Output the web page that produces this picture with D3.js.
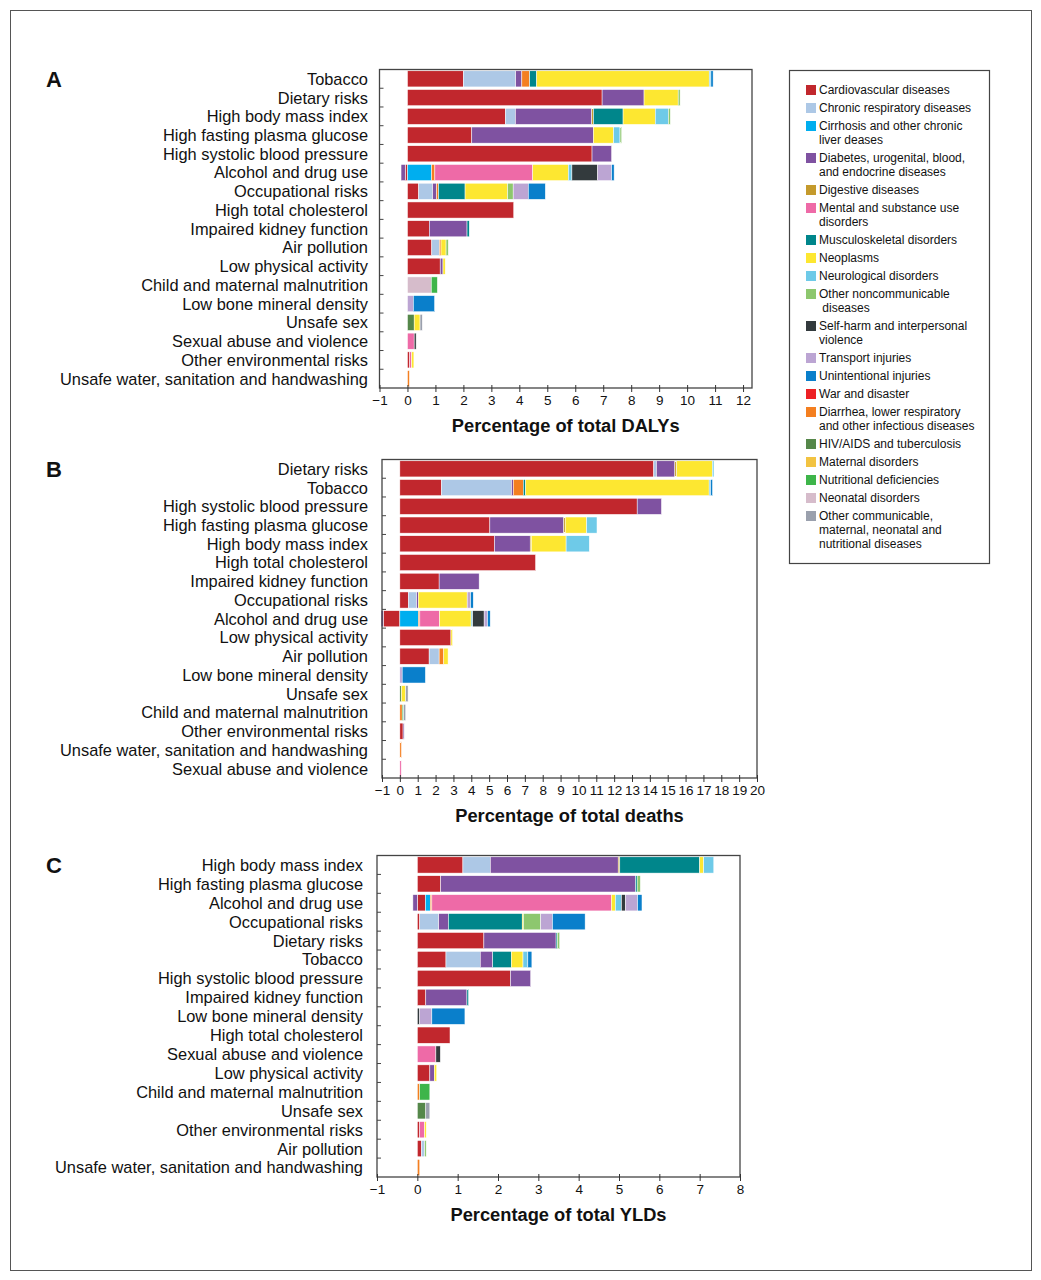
<!DOCTYPE html>
<html>
<head>
<meta charset="utf-8">
<style>
  body { margin: 0; background: #fff; }
  svg text { font-family: "Liberation Sans", Arial, Helvetica, sans-serif; fill: #111; }
  .axis line { stroke: #333; }
  .axis text { font-size: 13.5px; }
</style>
</head>
<body>
<div id="chart"></div>
<script src="https://d3js.org/d3.v7.min.js"></script>
<script>
// cause groups, in legend order
const causeKeys = ['cvd', 'crd', 'cirr', 'diab', 'dig', 'ment', 'msk', 'neo', 'neuro', 'oncd',
  'self', 'trans', 'unint', 'war', 'diar', 'hiv', 'mat', 'nutr', 'neon', 'ocd'];
const causeNames = [
  ['Cardiovascular diseases'],
  ['Chronic respiratory diseases'],
  ['Cirrhosis and other chronic', 'liver deases'],
  ['Diabetes, urogenital, blood,', 'and endocrine diseases'],
  ['Digestive diseases'],
  ['Mental and substance use', 'disorders'],
  ['Musculoskeletal disorders'],
  ['Neoplasms'],
  ['Neurological disorders'],
  ['Other noncommunicable', ' diseases'],
  ['Self-harm and interpersonal', 'violence'],
  ['Transport injuries'],
  ['Unintentional injuries'],
  ['War and disaster'],
  ['Diarrhea, lower respiratory', 'and other infectious diseases'],
  ['HIV/AIDS and tuberculosis'],
  ['Maternal disorders'],
  ['Nutritional deficiencies'],
  ['Neonatal disorders'],
  ['Other communicable,', 'maternal, neonatal and', 'nutritional diseases']
];
const causeColors = ['#c1272d', '#adc8e6', '#00aeef', '#7f52a1', '#c49a2c', '#ee6aa7', '#00868b',
  '#fde731', '#6ecae8', '#8dc76e', '#333a3d', '#bca5d3', '#0a7fcb', '#ed2024', '#f47f20',
  '#55874a', '#f2c341', '#3eb54a', '#d6bccb', '#9aa0ad'];
// order segments are stacked in the bars
const stackOrder = ['cvd', 'crd', 'cirr', 'diab', 'dig', 'diar', 'hiv', 'neon', 'ment', 'msk', 'neo',
  'neuro', 'oncd', 'self', 'trans', 'unint', 'war', 'mat', 'nutr', 'ocd'];

// A: DALYs
const dalyRisks = ['Tobacco', 'Dietary risks', 'High body mass index', 'High fasting plasma glucose',
  'High systolic blood pressure', 'Alcohol and drug use', 'Occupational risks', 'High total cholesterol',
  'Impaired kidney function', 'Air pollution', 'Low physical activity', 'Child and maternal malnutrition',
  'Low bone mineral density', 'Unsafe sex', 'Sexual abuse and violence', 'Other environmental risks',
  'Unsafe water, sanitation and handwashing'];
const dalyValues = [
  { cvd: 2.0, crd: 1.87, diab: 0.22, diar: 0.28, msk: 0.25, neo: 6.17, neuro: 0.06, unint: 0.08 },
  { cvd: 6.96, diab: 1.5, neo: 1.22, oncd: 0.07 },
  { cvd: 3.5, crd: 0.36, diab: 2.73, dig: 0.06, msk: 1.06, neo: 1.15, neuro: 0.47, oncd: 0.07 },
  { cvd: 2.3, diab: 4.35, neo: 0.72, neuro: 0.23, oncd: 0.06 },
  { cvd: 6.6, diab: 0.7 },
  { cvd: -0.08, diab: -0.15, cirr: 0.86, diar: 0.12, ment: 3.5, neo: 1.27, neuro: 0.13, self: 0.92, trans: 0.5, unint: 0.09 },
  { cvd: 0.4, crd: 0.5, diab: 0.14, diar: 0.07, msk: 0.95, neo: 1.52, oncd: 0.2, trans: 0.54, unint: 0.61 },
  { cvd: 3.8 },
  { cvd: 0.78, diab: 1.35, msk: 0.08 },
  { cvd: 0.87, crd: 0.27, diar: 0.06, neo: 0.18, oncd: 0.08 },
  { cvd: 1.17, diab: 0.1, neo: 0.08 },
  { neon: 0.85, nutr: 0.22 },
  { trans: 0.21, unint: 0.76 },
  { hiv: 0.24, neo: 0.21, ocd: 0.08 },
  { ment: 0.24, self: 0.07 },
  { cvd: 0.08, ment: 0.07, neo: 0.08 },
  { diar: 0.07 }
];
const dalyTicks = [-1, 0, 1, 2, 3, 4, 5, 6, 7, 8, 9, 10, 11, 12];

// B: deaths
const deathRisks = ['Dietary risks', 'Tobacco', 'High systolic blood pressure', 'High fasting plasma glucose',
  'High body mass index', 'High total cholesterol', 'Impaired kidney function', 'Occupational risks',
  'Alcohol and drug use', 'Low physical activity', 'Air pollution', 'Low bone mineral density', 'Unsafe sex',
  'Child and maternal malnutrition', 'Other environmental risks', 'Unsafe water, sanitation and handwashing',
  'Sexual abuse and violence'];
const deathValues = [
  { cvd: 14.22, crd: 0.15, diab: 1.03, dig: 0.1, neo: 2.0, neuro: 0.09 },
  { cvd: 2.33, crd: 3.92, diab: 0.1, diar: 0.56, msk: 0.13, neo: 10.28, neuro: 0.08, unint: 0.11 },
  { cvd: 13.29, diab: 1.36 },
  { cvd: 5.04, diab: 4.14, dig: 0.08, neo: 1.2, neuro: 0.58 },
  { cvd: 5.3, diab: 2.0, dig: 0.06, neo: 1.95, neuro: 1.3 },
  { cvd: 7.6 },
  { cvd: 2.2, diab: 2.24 },
  { cvd: 0.47, crd: 0.47, diab: 0.09, neo: 2.74, trans: 0.19, unint: 0.15 },
  { cvd: -0.93, diab: -0.12, cirr: 1.03, diar: 0.09, ment: 1.1, neo: 1.77, neuro: 0.09, self: 0.64, trans: 0.19, unint: 0.15 },
  { cvd: 2.86, neo: 0.09 },
  { cvd: 1.64, crd: 0.56, diar: 0.26, neo: 0.24 },
  { trans: 0.13, unint: 1.3 },
  { hiv: 0.09, neo: 0.24, ocd: 0.13 },
  { diar: 0.13, nutr: 0.08, ocd: 0.12 },
  { cvd: 0.18, diab: 0.06 },
  { diar: 0.09 },
  { ment: 0.08 }
];
const deathTicks = d3.range(-1, 21);

// C: YLDs
const yldRisks = ['High body mass index', 'High fasting plasma glucose', 'Alcohol and drug use',
  'Occupational risks', 'Dietary risks', 'Tobacco', 'High systolic blood pressure', 'Impaired kidney function',
  'Low bone mineral density', 'High total cholesterol', 'Sexual abuse and violence', 'Low physical activity',
  'Child and maternal malnutrition', 'Unsafe sex', 'Other environmental risks', 'Air pollution',
  'Unsafe water, sanitation and handwashing'];
const yldValues = [
  { cvd: 1.13, crd: 0.68, diab: 3.17, dig: 0.04, msk: 1.98, neo: 0.1, neuro: 0.25 },
  { cvd: 0.58, diab: 4.83, msk: 0.04, oncd: 0.08 },
  { diab: -0.11, cvd: 0.2, cirr: 0.12, diar: 0.04, ment: 4.45, neo: 0.1, neuro: 0.15, self: 0.1, trans: 0.3, unint: 0.11 },
  { cvd: 0.06, crd: 0.47, diab: 0.24, msk: 1.83, neo: 0.03, oncd: 0.43, trans: 0.29, unint: 0.81 },
  { cvd: 1.65, diab: 1.79, msk: 0.03, oncd: 0.06 },
  { cvd: 0.71, crd: 0.85, diab: 0.31, msk: 0.46, neo: 0.29, neuro: 0.12, unint: 0.1 },
  { cvd: 2.31, diab: 0.5 },
  { cvd: 0.21, diab: 1.02, msk: 0.04 },
  { self: 0.06, trans: 0.3, unint: 0.82 },
  { cvd: 0.81 },
  { ment: 0.46, self: 0.11 },
  { cvd: 0.31, diab: 0.11, neo: 0.06 },
  { diar: 0.06, nutr: 0.25 },
  { hiv: 0.21, ocd: 0.1 },
  { cvd: 0.06, ment: 0.12, neo: 0.04 },
  { cvd: 0.1, crd: 0.08, oncd: 0.04 },
  { diar: 0.06 }
];
const yldTicks = [-1, 0, 1, 2, 3, 4, 5, 6, 7, 8];

const color = d3.scaleOrdinal().domain(causeKeys).range(causeColors);

const svg = d3.select('#chart').append('svg')
  .attr('width', 1041).attr('height', 1280);

// outer border
svg.append('rect')
  .attr('x', 10.5).attr('y', 10.5).attr('width', 1021).attr('height', 1260)
  .attr('fill', 'none').attr('stroke', '#555').attr('stroke-width', 1);

const panels = [
  { letter: 'A', risks: dalyRisks, values: dalyValues, ticks: dalyTicks, domain: [-1, 12.32],
    x0: 379.5, x1: 752, top: 69.5, bottom: 388, labelX: 368, title: 'Percentage of total DALYs' },
  { letter: 'B', risks: deathRisks, values: deathValues, ticks: deathTicks, domain: [-1, 20],
    x0: 382, x1: 757, top: 459.5, bottom: 778, labelX: 368, title: 'Percentage of total deaths' },
  { letter: 'C', risks: yldRisks, values: yldValues, ticks: yldTicks, domain: [-1, 8],
    x0: 377, x1: 740, top: 855.5, bottom: 1177, labelX: 363, title: 'Percentage of total YLDs' }
];

const fmt = d => d < 0 ? '\u2212' + Math.abs(d) : String(d);

panels.forEach(p => {
  const x = d3.scaleLinear().domain(p.domain).range([p.x0, p.x1]);
  const y = d3.scaleBand().domain(p.risks).range([p.top, p.bottom])
    .paddingInner(0.14).paddingOuter(0.07);

  const rows = p.values.map((v, i) => Object.assign({ risk: p.risks[i] }, v));
  const series = d3.stack()
    .keys(stackOrder)
    .value((d, k) => d[k] || 0)
    .offset(d3.stackOffsetDiverging)(rows);

  const g = svg.append('g');

  // bars
  g.selectAll('.layer')
    .data(series)
    .join('g')
    .attr('fill', d => color(d.key))
    .selectAll('rect')
    .data(d => d.filter(s => s[1] !== s[0]))
    .join('rect')
    .attr('x', d => x(Math.min(d[0], d[1])))
    .attr('width', d => Math.abs(x(d[1]) - x(d[0])))
    .attr('y', d => y(d.data.risk))
    .attr('height', y.bandwidth())
    .attr('stroke', '#fff')
    .attr('stroke-width', 0.5);

  // frame
  g.append('rect')
    .attr('x', p.x0).attr('y', p.top)
    .attr('width', p.x1 - p.x0).attr('height', p.bottom - p.top)
    .attr('fill', 'none').attr('stroke', '#444').attr('stroke-width', 1.3);

  // row separators on left axis
  const gap = (y.step() - y.bandwidth()) / 2;
  g.selectAll('.sep')
    .data(p.risks.slice(1))
    .join('line')
    .attr('x1', p.x0).attr('x2', p.x0 + 4)
    .attr('y1', d => y(d) - gap).attr('y2', d => y(d) - gap)
    .attr('stroke', '#444');

  // row labels
  g.selectAll('.lab')
    .data(p.risks)
    .join('text')
    .attr('x', p.labelX)
    .attr('y', d => y(d) + y.bandwidth() / 2)
    .attr('dy', '0.36em')
    .attr('text-anchor', 'end')
    .style('font-size', '16.4px')
    .text(d => d);

  // x axis
  const ax = g.append('g')
    .attr('class', 'axis')
    .attr('transform', `translate(0,${p.bottom})`)
    .call(d3.axisBottom(x).tickValues(p.ticks).tickFormat(fmt).tickSizeInner(4).tickSizeOuter(0).tickPadding(3));
  ax.select('.domain').remove();
  ax.selectAll('.tick line').attr('y1', -3);
  ax.selectAll('text').style('fill', '#111');

  g.append('text')
    .attr('x', (p.x0 + p.x1) / 2)
    .attr('y', p.bottom + 44)
    .attr('text-anchor', 'middle')
    .style('font-size', '18.3px')
    .style('font-weight', 'bold')
    .text(p.title);

  g.append('text')
    .attr('x', 46)
    .attr('y', p.top + 17)
    .style('font-size', '22px')
    .style('font-weight', 'bold')
    .text(p.letter);
});

// legend
const legend = svg.append('g');
legend.append('rect')
  .attr('x', 789.5).attr('y', 70.5).attr('width', 200).attr('height', 493)
  .attr('fill', 'none').attr('stroke', '#444').attr('stroke-width', 1.2);

let ly = 90;
causeKeys.forEach((k, i) => {
  const lines = causeNames[i];
  legend.append('rect')
    .attr('x', 806).attr('y', ly - 5).attr('width', 10).attr('height', 10)
    .attr('fill', color(k));
  const t = legend.append('text')
    .attr('x', 819).attr('y', ly)
    .attr('dy', '0.35em')
    .style('font-size', '12px')
    .attr('xml:space', 'preserve');
  lines.forEach((ln, j) => {
    t.append('tspan').attr('x', 819).attr('dy', j === 0 ? '0.35em' : '14px').text(ln);
  });
  ly += 18 + 14 * (lines.length - 1);
});
</script>
</body>
</html>
